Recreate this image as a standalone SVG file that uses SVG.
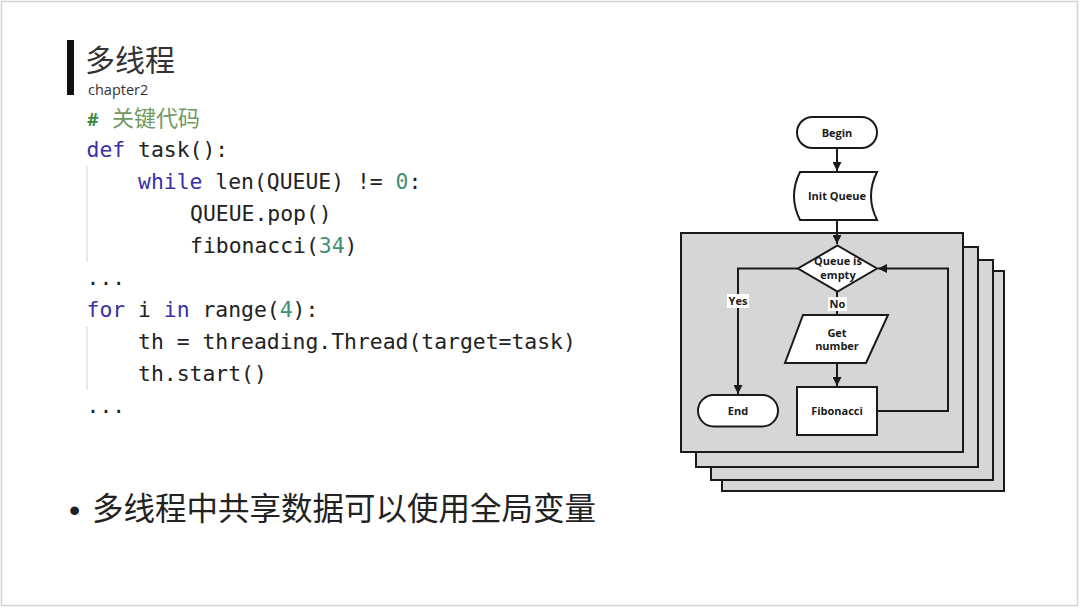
<svg xmlns="http://www.w3.org/2000/svg" width="1080" height="608" viewBox="0 0 1080 608">
<defs>
<marker id="arr" viewBox="0 0 10 10" refX="10" refY="5" markerWidth="9" markerHeight="9" markerUnits="userSpaceOnUse" orient="auto">
<path d="M0,0 L10,5 L0,10 Z" fill="#1a1a1a"/>
</marker>
<style>
.code{font-family:"DejaVu Sans Mono","Liberation Mono",monospace;font-size:21.4px;fill:#222}
.kw{fill:#3a30a8}
.num{fill:#3f8f76}
.shape{fill:#fff;stroke:#1a1a1a;stroke-width:2}
.panel{fill:#d6d6d6;stroke:#1a1a1a;stroke-width:2}
.lbl{font-family:"Open Sans","DejaVu Sans",sans-serif;font-weight:bold;font-size:11px;fill:#1a1a1a;text-anchor:middle}
.conn{fill:none;stroke:#1a1a1a;stroke-width:2}
.guide{stroke:#e2e2e2;stroke-width:1.5}
</style>
</defs>
<rect x="0" y="0" width="1080" height="608" fill="#fff"/>
<rect x="1.5" y="1.5" width="1076" height="604" fill="none" stroke="#d4d4d4" stroke-width="1.5"/>

<g id="title">
<rect x="67" y="40" width="7" height="55" fill="#111"/>
<text x="85" y="71" font-family="'Noto Sans CJK SC',sans-serif" font-size="30" fill="#333">多线程</text>
<text x="88" y="95" font-family="'Open Sans',sans-serif" font-size="14.5" fill="#333">chapter2</text>
</g>

<g id="code">
<text x="87" y="125.5" font-family="'Open Sans',sans-serif" font-weight="bold" font-size="18" fill="#3b8a3b">#</text>
<text x="112" y="126" font-family="'Noto Sans CJK SC',sans-serif" font-size="22" fill="#6f9a62">关键代码</text>
<line class="guide" x1="87" y1="166" x2="87" y2="262"/>
<line class="guide" x1="87" y1="327" x2="87" y2="390"/>
<text class="code" x="86.5" y="156.5"><tspan class="kw">def</tspan> task():</text>
<text class="code" x="138" y="188.5"><tspan class="kw">while</tspan> len(QUEUE) != <tspan class="num">0</tspan>:</text>
<text class="code" x="190" y="220.5">QUEUE.pop()</text>
<text class="code" x="190" y="252.5">fibonacci(<tspan class="num">34</tspan>)</text>
<text class="code" x="86.5" y="284.5">...</text>
<text class="code" x="86.5" y="316.5"><tspan class="kw">for</tspan> i <tspan class="kw">in</tspan> range(<tspan class="num">4</tspan>):</text>
<text class="code" x="138" y="348.5">th = threading.Thread(target=task)</text>
<text class="code" x="138" y="380.5">th.start()</text>
<text class="code" x="86.5" y="412.5">...</text>
</g>

<g id="bullet">
<text x="69" y="521" font-family="'Liberation Sans',sans-serif" font-size="32" fill="#222">•</text>
<text x="92" y="520" font-family="'Noto Sans CJK SC',sans-serif" font-size="31.5" fill="#222">多线程中共享数据可以使用全局变量</text>
</g>

<g id="panels">
<rect class="panel" x="722" y="271" width="282" height="220"/>
<rect class="panel" x="711" y="260" width="282" height="220"/>
<rect class="panel" x="696" y="247" width="282" height="220"/>
<rect class="panel" x="681" y="233" width="282" height="219"/>
</g>

<g id="connectors">
<path class="conn" d="M837,148 V171" marker-end="url(#arr)"/>
<path class="conn" d="M837,220 V244" marker-end="url(#arr)"/>
<path class="conn" d="M798,268.5 H738 V394" marker-end="url(#arr)"/>
<path class="conn" d="M837,291.5 V315"/>
<path class="conn" d="M837,363 V386" marker-end="url(#arr)"/>
<path class="conn" d="M877,411 H948 V268.5 H878" marker-end="url(#arr)"/>
<rect x="727" y="294" width="22" height="14" fill="#fff"/>
<text class="lbl" x="738" y="305">Yes</text>
<rect x="828" y="297" width="19" height="14" fill="#fff"/>
<text class="lbl" x="837.5" y="308">No</text>
</g>

<g id="begin">
<rect class="shape" x="797" y="117" width="80" height="31" rx="15.5"/>
<text class="lbl" x="837" y="136.5">Begin</text>
</g>
<g id="init-queue">
<path class="shape" d="M800,172 H877 Q865,196 877,220 H800 Q788,196 800,172 Z"/>
<text class="lbl" x="837" y="200">Init Queue</text>
</g>
<g id="decision">
<path class="shape" d="M837.5,245.5 L877,268.5 L837.5,291.5 L798,268.5 Z"/>
<text class="lbl" x="838" y="265">Queue is</text>
<text class="lbl" x="838" y="279">empty</text>
</g>
<g id="get-number">
<path class="shape" d="M803,315 H888 L866,363 H785 Z"/>
<text class="lbl" x="837" y="336.5">Get</text>
<text class="lbl" x="837" y="350">number</text>
</g>
<g id="fibonacci">
<rect class="shape" x="797" y="387" width="80" height="48"/>
<text class="lbl" x="837" y="415">Fibonacci</text>
</g>
<g id="end">
<rect class="shape" x="698" y="395" width="80" height="31.5" rx="15.75"/>
<text class="lbl" x="738" y="415">End</text>
</g>
</svg>
